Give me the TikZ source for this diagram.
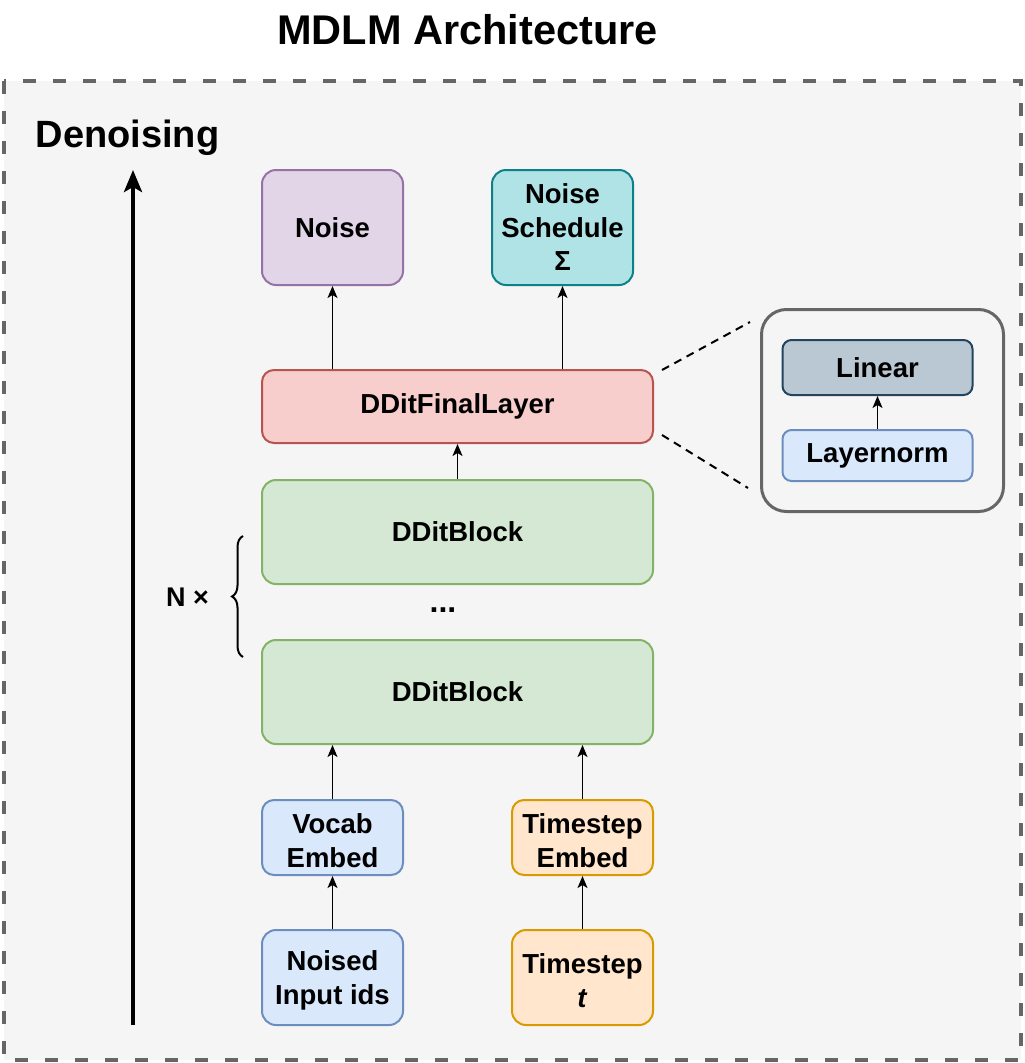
\documentclass[tikz,border=0pt]{standalone}
\usepackage{fontspec}
\setmainfont{Liberation Sans}
\usetikzlibrary{arrows.meta,decorations.pathreplacing}
\definecolor{bgc}{HTML}{F5F5F5}
\definecolor{outc}{HTML}{666666}
\definecolor{purf}{HTML}{E1D5E7}\definecolor{purd}{HTML}{9673A6}
\definecolor{teaf}{HTML}{B0E3E6}\definecolor{tead}{HTML}{0E8088}
\definecolor{redf}{HTML}{F8CECC}\definecolor{redd}{HTML}{B85450}
\definecolor{grnf}{HTML}{D5E8D4}\definecolor{grnd}{HTML}{82B366}
\definecolor{bluf}{HTML}{DAE8FC}\definecolor{blud}{HTML}{6C8EBF}
\definecolor{orgf}{HTML}{FFE6CC}\definecolor{orgd}{HTML}{D79B00}
\definecolor{bgyf}{HTML}{BAC8D3}\definecolor{bgyd}{HTML}{23445D}
\newcommand{\topgap}{\rule{0pt}{26pt}}
\tikzset{
  box/.style={draw, rectangle, rounded corners=14pt, line width=2pt, align=center,
    font=\fontsize{27.5}{33.5}\selectfont\bfseries, inner sep=0pt},
  arr/.style={-{Stealth[length=12pt,width=10pt,inset=3pt]}, line width=1.5pt},
  bigarr/.style={-{Stealth[length=22pt,width=18pt,inset=5pt]}, line width=4pt},
  zoomline/.style={dashed, dash pattern=on 8pt off 6pt, line width=2pt},
  lbl/.style={font=\bfseries, inner sep=0pt}
}
\begin{document}
\begin{tikzpicture}[x=1pt,y=1pt]
\useasboundingbox[fill=white] (0,0) rectangle (1025,-1063);
% outer dashed container
\draw[fill=bgc, draw=outc, line width=4pt, dash pattern=on 13pt off 17pt] (4,-81) rectangle (1021,-1060);
% title
\node[lbl, font=\fontsize{41.5}{45}\selectfont\bfseries] (title) at (467.5,-30) {MDLM Architecture};
% denoising
\node[lbl, font=\fontsize{38}{42}\selectfont\bfseries] (den) at (127.5,-138) {Denoising};
\coordinate (dstart) at (133,-1025);
\coordinate (dend) at (133,-170);
\draw[bigarr] (dstart) -- (dend);
% nodes
\node[box, fill=purf, draw=purd, minimum width=141pt, minimum height=115pt] (noise) at (332.5,-227.5) {Noise};
\node[box, fill=teaf, draw=tead, minimum width=141pt, minimum height=115pt] (sched) at (562.5,-227.5) {Noise\\Schedule\\Σ};
\node[box, fill=redf, draw=redd, minimum width=391pt, minimum height=73pt, rounded corners=12pt] (final) at (457.5,-406.5) {DDitFinalLayer};
\node[box, fill=grnf, draw=grnd, minimum width=391pt, minimum height=104pt] (blockA) at (457.5,-532) {DDitBlock};
\node[lbl, font=\fontsize{32}{34}\selectfont\bfseries] (dots) at (443,-610) {...};
\node[box, fill=grnf, draw=grnd, minimum width=391pt, minimum height=104pt] (blockB) at (457.5,-692) {DDitBlock};
\node[box, fill=bluf, draw=blud, minimum width=141pt, minimum height=75pt, rounded corners=12pt] (vocab) at (332.5,-837.5) {\topgap Vocab\\Embed};
\node[box, fill=orgf, draw=orgd, minimum width=141pt, minimum height=75pt, rounded corners=12pt] (temb) at (582.5,-837.5) {\topgap Timestep\\Embed};
\node[box, fill=bluf, draw=blud, minimum width=141pt, minimum height=95pt] (noised) at (332.5,-977.5) {\topgap Noised\\Input ids};
\node[box, fill=orgf, draw=orgd, minimum width=141pt, minimum height=95pt] (tstep) at (582.5,-977.5) {\topgap Timestep\\\textit{t}};
% zoom box
\node[draw=outc, fill=bgc, rectangle, rounded corners=25pt, line width=3pt, minimum width=242pt, minimum height=202pt] (zoom) at (882.5,-410.5) {};
\node[box, fill=bgyf, draw=bgyd, minimum width=190pt, minimum height=55pt, rounded corners=9pt] (linear) at (877.5,-367.5) {Linear};
\node[box, fill=bluf, draw=blud, minimum width=190pt, minimum height=51pt, rounded corners=9pt] (lnorm) at (877.5,-455.5) {Layernorm};
% zoom lines
\coordinate (zA1) at (662,-370);
\coordinate (zA2) at (750,-322);
\coordinate (zB1) at (662,-435);
\coordinate (zB2) at (748,-488);
\draw[zoomline] (zA1) -- (zA2);
\draw[zoomline] (zB1) -- (zB2);
% brace
\coordinate (brb) at (243,-657);
\coordinate (brt) at (243,-536);
\draw[line width=2pt, decorate, decoration={brace, amplitude=11pt}] (brb) -- (brt);
\node[lbl, font=\fontsize{27}{30}\selectfont\bfseries] (ntimes) at (187.5,-597) {N ×};
% arrows
\draw[arr] (noise |- final.north) -- (noise.south);
\draw[arr] (sched |- final.north) -- (sched.south);
\draw[arr] (blockA.north) -- (final.south);
\draw[arr] (vocab.north) -- (vocab |- blockB.south);
\draw[arr] (temb.north) -- (temb |- blockB.south);
\draw[arr] (noised.north) -- (vocab.south);
\draw[arr] (tstep.north) -- (temb.south);
\draw[arr] (lnorm.north) -- (linear.south);
\end{tikzpicture}
\end{document}
